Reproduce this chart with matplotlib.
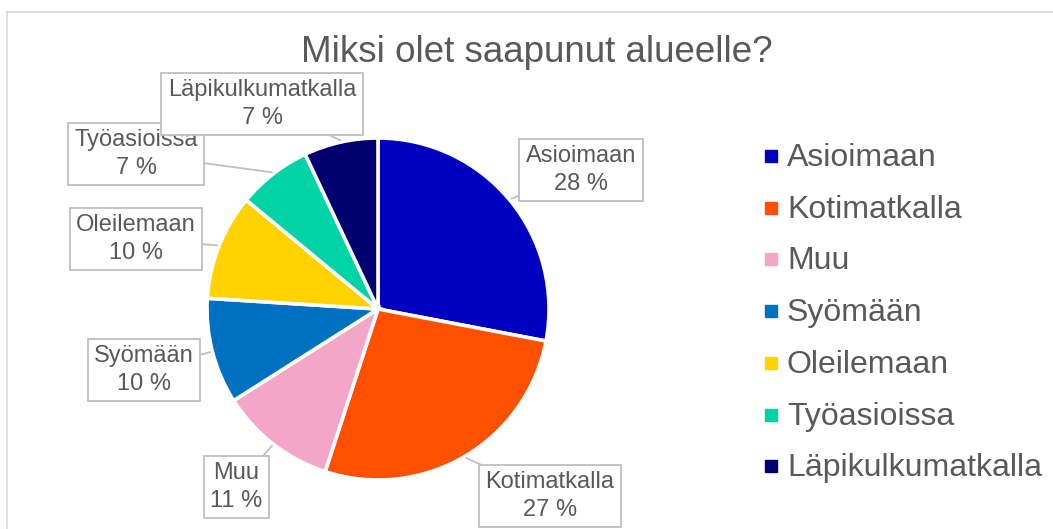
import numpy as np
import matplotlib

matplotlib.use("Agg")
import matplotlib.pyplot as plt
from matplotlib.patches import Rectangle

plt.rcParams["font.family"] = ["Liberation Sans", "DejaVu Sans"]

TITLE = "Miksi olet saapunut alueelle?"
categories = ["Asioimaan", "Kotimatkalla", "Muu", "Syömään", "Oleilemaan",
              "Työasioissa", "Läpikulkumatkalla"]
shares = [28, 27, 11, 10, 10, 7, 7]
colors = ["#0000C0", "#FF5000", "#F4A6C8", "#0070C0", "#FFD200",
          "#00D4A6", "#000070"]

W, H = 1053, 529
TEXT = "#595959"
EDGE = "#BFBFBF"

# label box centres in pixel coords (x right, y down)
label_pos = [(581, 170), (550, 496), (236, 487), (144, 370),
             (136, 239), (136, 154), (262, 104)]

fig = plt.figure(figsize=(W / 100, H / 100), dpi=100)
ax = fig.add_axes([0, 0, 1, 1])


def fy(y):
    return H - y


# chart frame (cut off at right/bottom)
ax.plot([7, W + 5], [fy(12), fy(12)], color="#D9D9D9", lw=1.2)
ax.plot([7, 7], [fy(12), -5], color="#D9D9D9", lw=1.2)

ax.text(537, fy(52), TITLE, ha="center", va="center", fontsize=26.5, color=TEXT)

cx, cy, r = 378, fy(309), 171
wedges, _ = ax.pie(shares, colors=colors, startangle=90, counterclock=False,
                   center=(cx, cy), radius=r, frame=True,
                   wedgeprops=dict(edgecolor="white", linewidth=2.6))
ax.set_xlim(0, W)
ax.set_ylim(0, H)
ax.set_aspect("equal")
ax.axis("off")

for w, cat, val, (lx, ly) in zip(wedges, categories, shares, label_pos):
    mid = np.deg2rad((w.theta1 + w.theta2) / 2)
    tip = (cx + (r + 2) * np.cos(mid), cy + (r + 2) * np.sin(mid))
    ax.annotate(f"{cat}\n{val} %", xy=tip, xytext=(lx, fy(ly)),
                ha="center", va="center", fontsize=17, color=TEXT,
                linespacing=1.3,
                bbox=dict(boxstyle="square,pad=0.27", fc="white", ec=EDGE, lw=1.3),
                arrowprops=dict(arrowstyle="-", color=EDGE, lw=1.3,
                                shrinkA=0, shrinkB=0))

# legend
for i, (cat, col) in enumerate(zip(categories, colors)):
    my = 156 + i * 51.7
    ax.add_patch(Rectangle((765, fy(my) - 6), 12, 12, color=col))
    ax.text(787, fy(my + 10), cat, ha="left", va="baseline",
            fontsize=23, color=TEXT)

fig.savefig("out.png", dpi=100)
